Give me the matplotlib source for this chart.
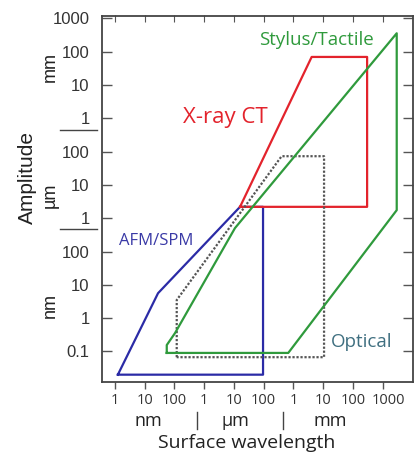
import matplotlib
matplotlib.use("Agg")
import matplotlib.pyplot as plt
from matplotlib.lines import Line2D
from matplotlib.transforms import ScaledTranslation

# ---- data (all in nanometres) ----
afm_x = [1.25, 28, 16000, 95000, 95000, 1.25]
afm_y = [0.02, 5.6, 2200, 2200, 0.02, 0.02]

xct_x = [16000, 4.1e6, 3.0e8, 3.0e8, 16000]
xct_y = [2200, 7.0e7, 7.0e7, 2200, 2200]

sty_x = [55, 55, 104, 10800, 2.97e9, 2.97e9, 6.7e5, 55]
sty_y = [0.09, 0.155, 0.354, 505, 3.6e8, 1750, 0.09, 0.09]

opt_x = [119, 119, 4.0e5, 1.07e7, 1.07e7, 119]
opt_y = [0.067, 3.5, 7.3e4, 7.3e4, 0.067, 0.067]

x_ticks = [1, 10, 100, 1e3, 1e4, 1e5, 1e6, 1e7, 1e8, 1e9]
x_ticklabels = ["1", "10", "100", "1", "10", "100", "1", "10", "100", "1000"]
y_ticks = [0.1, 1, 10, 100, 1e3, 1e4, 1e5, 1e6, 1e7, 1e8, 1e9]
y_ticklabels = ["0.1", "1", "10", "100", "1", "10", "100", "1", "10", "100", "1000"]

W, H = 418, 457
fig = plt.figure(figsize=(W / 100, H / 100), dpi=100)
L, R, T, B = 102, 412.7, 15.5, 381.7
ax = fig.add_axes([L / W, 1 - B / H, (R - L) / W, (B - T) / H])
ax.set_xscale("log")
ax.set_yscale("log")
ax.set_xlim(10 ** -0.437, 10 ** 10.01)
ax.set_ylim(10 ** -1.91, 10 ** 9.09)

ax.plot(afm_x, afm_y, color="#2b2ba6", lw=1.6)
ax.plot(xct_x, xct_y, color="#e3232c", lw=1.6)
ax.plot(opt_x, opt_y, color="#555555", lw=1.6, ls=(0, (1, 0.8)))
ax.plot(sty_x, sty_y, color="#2f9a3c", lw=1.6)

ax.minorticks_off()
ax.set_xticks(x_ticks)
ax.set_xticklabels(x_ticklabels)
ax.set_yticks(y_ticks)
ax.set_yticklabels(y_ticklabels)
ax.tick_params(axis="x", which="major", direction="out", length=5, width=1,
               color="#555555", labelsize=10.5, labelcolor="#333333", pad=3,
               top=False)
ax.tick_params(axis="y", which="major", direction="in", length=7, width=1,
               color="#555555", labelsize=12, labelcolor="#333333", pad=9,
               right=True)
for lab in ax.get_xticklabels():
    lab.set_family("Open Sans")
for lab in ax.get_yticklabels():
    lab.set_family("Liberation Sans")
last = ax.get_xticklabels()[-1]
last.set_transform(last.get_transform() + ScaledTranslation(6 / 100, 0, fig.dpi_scale_trans))
for s in ax.spines.values():
    s.set_color("#444444")
    s.set_linewidth(1.3)

# top ticks inward without labels
sec = ax.secondary_xaxis("top")
sec.set_xticks(x_ticks)
sec.tick_params(direction="in", length=5, labeltop=False, color="#555555")
sec.spines["top"].set_visible(False)


def P(x, y):
    return x / W, 1 - y / H


ff = "Open Sans"
fig.text(*P(225, 117), "X-ray CT", color="#e3232c", fontsize=16, family=ff,
         ha="center", va="center")
fig.text(*P(316, 40), "Stylus/Tactile", color="#2f9a3c", fontsize=13.5, family=ff,
         ha="center", va="center")
fig.text(*P(156, 241), "AFM/SPM", color="#3a3aa6", fontsize=12, family=ff,
         ha="center", va="center")
fig.text(*P(362, 342), "Optical", color="#3f6f80", fontsize=13.5, family=ff,
         ha="center", va="center")

# x units
for xc, t in [(148, "nm"), (235, "\u00b5m"), (330, "mm")]:
    fig.text(*P(xc, 421), t, fontsize=13, family=ff, ha="center", va="center",
             color="#222222")
fig.text(*P(247, 443), "Surface wavelength", fontsize=14, family=ff,
         ha="center", va="center", color="#222222")
for xc in (196.7, 283.3):
    fig.add_artist(Line2D([xc / W, xc / W], [1 - 411.5 / H, 1 - 428.5 / H],
                          transform=fig.transFigure, color="#444444", lw=1))

# y units
for yc, t in [(67, "mm"), (195, "\u00b5m"), (305, "nm")]:
    fig.text(*P(50, yc), t, fontsize=13, family="Liberation Sans",
             rotation=90, ha="center", va="center", color="#222222")
fig.text(*P(27, 178), "Amplitude", fontsize=15, family="Liberation Sans",
         rotation=90, ha="center", va="center", color="#222222")
for yc in (130, 228.7):
    fig.add_artist(Line2D([60 / W, 96.7 / W], [1 - yc / H, 1 - yc / H],
                          transform=fig.transFigure, color="#444444", lw=1))

fig.savefig("out.png", dpi=100)
